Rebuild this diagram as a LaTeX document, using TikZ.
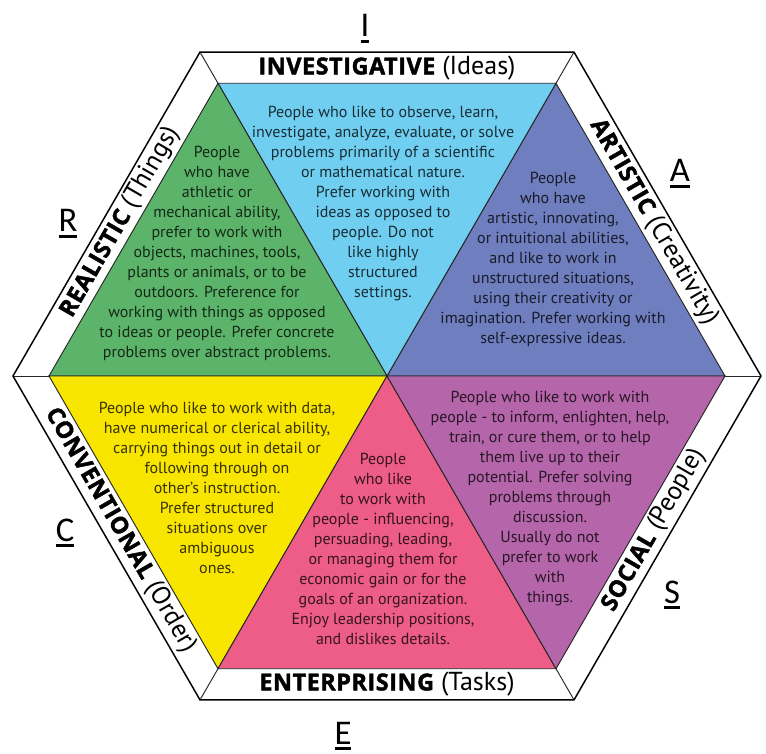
\documentclass[tikz,border=0pt]{standalone}
\usepackage{fontspec}
\setmainfont{PT Sans}
\newfontfamily\letterfont{Carlito}
\newfontfamily\heavyfont[FakeBold=1.8,LetterSpace=2.5]{Open Sans}
\usetikzlibrary{calc}
\definecolor{realgreen}{RGB}{92,180,106}
\definecolor{invblue}{RGB}{112,206,240}
\definecolor{artblue}{RGB}{111,126,190}
\definecolor{socpurple}{RGB}{181,101,170}
\definecolor{entpink}{RGB}{238,92,136}
\definecolor{convyellow}{RGB}{248,229,0}
\newcommand{\undl}[1]{\setbox0\hbox{#1}\rlap{\rule[-0.17em]{\wd0}{0.07em}}\box0}
\newcommand{\heavy}[1]{{\heavyfont\bfseries\fontsize{17.5}{17.5}\selectfont #1}}
\tikzset{wedge/.style={draw=black!85, line width=0.7pt},
rim/.style={draw=black, line width=1.1pt},
blurb/.style={align=center, inner sep=0pt, font=\fontsize{12}{15}\selectfont},
band/.style={inner sep=0pt, font=\fontsize{19.5}{18}\selectfont},
corner/.style={inner sep=0pt, anchor=base, font=\letterfont\fontsize{26}{26}\selectfont}}

\begin{document}
\begin{tikzpicture}[x=0.75pt,y=0.75pt]
  \useasboundingbox (-387,376) rectangle (379,-377);
  \coordinate (c) at (0,0);
  \foreach \i/\a in {1/0,2/60,3/120,4/180,5/240,6/300} {
    \coordinate (in\i) at (\a:338);
    \coordinate (out\i) at (\a:374);
  }
  % six wedges
  \foreach \i/\j/\col in {1/2/artblue,2/3/invblue,3/4/realgreen,4/5/convyellow,5/6/entpink,6/1/socpurple}
    \filldraw [wedge, fill=\col] (c) -- (in\i) -- (in\j) -- cycle;
  \foreach \i in {1,...,6}
    \draw [wedge] (in\i) -- (out\i);
  \draw [rim] (out1) -- (out2) -- (out3) -- (out4) -- (out5) -- (out6) -- cycle;

  % band titles
  \node (inv) [band] at (90:308) {\heavy{INVESTIGATIVE} (Ideas)};
  \node (art) [band, rotate=-60] at (30:308) {\heavy{ARTISTIC} (Creativity)};
  \node (soc) [band, rotate=60] at (-30:308) {\heavy{SOCIAL} (People)};
  \node (ent) [band] at (-90:308) {\heavy{ENTERPRISING} (Tasks)};
  \node (conv) [band, rotate=-60] at (210:308) {\heavy{CONVENTIONAL} (Order)};
  \node (real) [band, rotate=60] at (150:308) {\heavy{REALISTIC} (Things)};

  % letters
  \node (li) [corner] at (-22,339) {\undl{I}};
  \node (la) [corner] at (293,194) {\undl{A}};
  \node (ls) [corner] at (285,-227) {\undl{S}};
  \node (le) [corner] at (-44,-368) {\undl{E}};
  \node (lc) [corner] at (-322,-165) {\undl{C}};
  \node (lr) [corner] at (-319,144) {\undl{R}};

  % descriptions
  \node (treal) [blurb, text=realgreen!22!black] at (-170,123) {People\\who have\\athletic or\\mechanical ability,\\prefer to work with\\objects, machines, tools,\\plants or animals, or to be\\outdoors. Preference for\\working with things as opposed\\to ideas or people. Prefer concrete\\problems over abstract problems.};
  \node (tinv) [blurb, text=invblue!22!black] at (-4,172) {People who like to observe, learn,\\investigate, analyze, evaluate, or solve\\problems primarily of a scientific\\or mathematical nature.\\Prefer working with\\ideas as opposed to\\people. Do not\\like highly\\structured\\settings.};
  \node (tart) [blurb, text=artblue!22!black] at (166,117) {People\\who have\\artistic, innovating,\\or intuitional abilities,\\and like to work in\\unstructured situations,\\using their creativity or\\imagination. Prefer working with\\self-expressive ideas.};
  \node (tconv) [blurb, text=convyellow!22!black] at (-170,-112) {People who like to work with data,\\have numerical or clerical ability,\\carrying things out in detail or\\following through on\\other’s instruction.\\Prefer structured\\situations over\\ambiguous\\ones.};
  \node (tent) [blurb, text=entpink!22!black] at (-4,-173) {People\\who like\\to work with\\people - influencing,\\persuading, leading,\\or managing them for\\economic gain or for the\\goals of an organization.\\Enjoy leadership positions,\\and dislikes details.};
  \node (tsoc) [blurb, text=socpurple!22!black] at (163,-123) {People who like to work with\\people - to inform, enlighten, help,\\train, or cure them, or to help\\them live up to their\\potential. Prefer solving\\problems through\\discussion.\\Usually do not\\prefer to work\\with\\things.};
\end{tikzpicture}
\end{document}
